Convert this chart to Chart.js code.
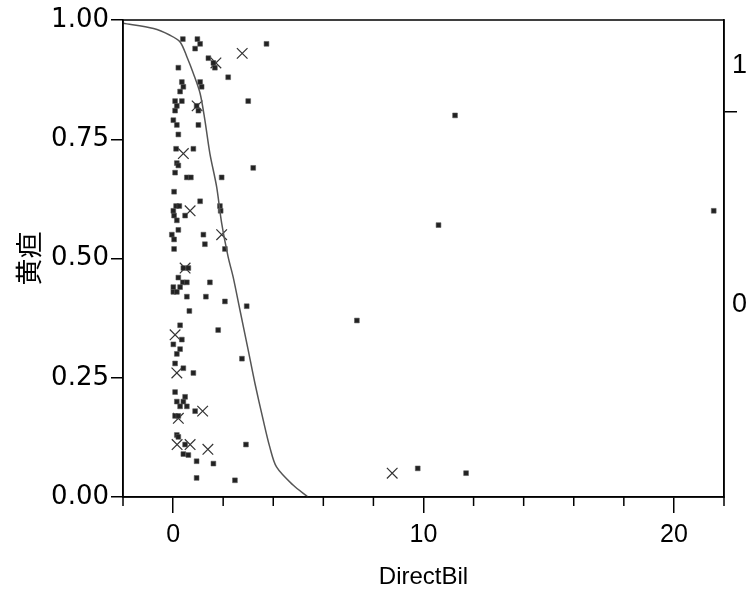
<!DOCTYPE html>
<html>
<head>
<meta charset="utf-8">
<script src="https://cdn.jsdelivr.net/npm/chart.js@4.4.0/dist/chart.umd.min.js"></script>
<style>
  html, body { margin: 0; padding: 0; background: #fff; }
</style>
</head>
<body>
<canvas id="chart" width="752" height="608"></canvas>
<script>
// Observations, level 0 (small filled squares)
const dotsX = [0.39, 0.97, 1.08, 0.88, 3.73, 1.41, 1.61, 1.67, 2.20, 3.00,
  0.21, 0.35, 0.41, 0.28, 1.08, 1.14, 0.08, 0.15, 0.08, 0.35,
  0.94, 1.01, 0.01, 0.15, 1.01, 0.21, 0.12, 0.81, 0.15, 0.21,
  0.08, 3.20, 0.55, 0.71, 1.94, 0.04, 0.12, 0.25, 1.08, 0.48,
  0.01, 0.04, 0.15, 0.21, -0.05, 0.04, 0.04, 1.21, 1.27, 1.87,
  1.90, 2.07, 0.41, 0.61, 0.21, 0.39, 0.55, 0.01, 0.28, 0.01,
  0.15, 0.55, 1.47, 1.31, 2.07, 2.94, 0.65, 1.80, 0.28, 0.35,
  0.01, 0.28, 0.15, 2.75, 0.08, 0.41, 0.81, 0.08, 0.48, 0.41,
  0.15, 0.28, 0.55, 0.88, 0.08, 0.21, 0.15, 0.21, 0.48, 0.41,
  0.61, 0.94, 2.91, 1.61, 0.94, 2.47, 11.26, 10.60, 21.59, 7.34,
  9.77, 11.70];
const dotsY = [0.96, 0.96, 0.95, 0.94, 0.95, 0.92, 0.91, 0.90, 0.88, 0.83,
  0.90, 0.87, 0.86, 0.85, 0.87, 0.86, 0.83, 0.82, 0.81, 0.83,
  0.82, 0.81, 0.79, 0.78, 0.78, 0.76, 0.73, 0.73, 0.70, 0.695,
  0.68, 0.69, 0.67, 0.67, 0.67, 0.64, 0.61, 0.61, 0.62, 0.59,
  0.60, 0.59, 0.58, 0.56, 0.55, 0.54, 0.52, 0.55, 0.53, 0.61,
  0.60, 0.52, 0.48, 0.48, 0.46, 0.45, 0.45, 0.44, 0.44, 0.43,
  0.43, 0.42, 0.45, 0.42, 0.41, 0.40, 0.39, 0.35, 0.36, 0.33,
  0.32, 0.31, 0.30, 0.29, 0.28, 0.27, 0.26, 0.22, 0.21, 0.20,
  0.20, 0.19, 0.19, 0.18, 0.17, 0.17, 0.13, 0.126, 0.11, 0.09,
  0.088, 0.075, 0.11, 0.07, 0.04, 0.035, 0.80, 0.57, 0.60, 0.37,
  0.06, 0.05];

// Observations, level 1 (crosses)
const crossX = [2.76, 1.71, 0.96, 0.41, 0.68, 1.94, 0.48, 0.08, 0.15, 1.18, 0.21, 0.68, 1.39, 0.16, 8.75];
const crossY = [0.93, 0.91, 0.82, 0.72, 0.60, 0.55, 0.48, 0.34, 0.26, 0.18, 0.165, 0.11, 0.10, 0.11, 0.05];

// Fitted probability curve
const curveX = [-2, -0.78, -0.12, 0.28, 0.55, 0.81, 1.08, 1.27, 1.47, 1.74, 1.94,
  2.20, 2.40, 2.67, 3.00, 3.27, 3.60, 3.86, 4.13, 4.79, 5.39];
const curveY = [0.993, 0.982, 0.968, 0.954, 0.923, 0.888, 0.846, 0.790, 0.720, 0.650, 0.574,
  0.503, 0.461, 0.392, 0.308, 0.238, 0.161, 0.105, 0.063, 0.025, 0];

// Axis ticks
const yTicks = [0, 0.25, 0.5, 0.75, 1];
const xLabelTicks = [0, 10, 20];
const xMinorTicks = [-2, 2, 4, 6, 8, 12, 14, 16, 18, 22];
const levelLabels = ['0', '1'];
const levelSplit = 0.808;

const toPoints = (xs, ys) => xs.map((x, i) => ({ x: x, y: ys[i] }));

// frame around the plot + short minor ticks on x
const framePlugin = {
  id: 'frame',
  afterDraw(chart) {
    const { ctx, chartArea: a, scales } = chart;
    ctx.save();
    ctx.strokeStyle = '#000';
    ctx.lineWidth = 1.5;
    ctx.strokeRect(a.left, a.top, a.right - a.left, a.bottom - a.top);
    xMinorTicks.forEach(v => {
      const px = scales.x.getPixelForValue(v);
      ctx.beginPath();
      ctx.moveTo(px, a.bottom);
      ctx.lineTo(px, a.bottom + 9);
      ctx.stroke();
    });
    ctx.restore();
  }
};

const font = 'Liberation Sans';

new Chart(document.getElementById('chart'), {
  type: 'scatter',
  data: {
    datasets: [
      {
        label: 'fit',
        data: toPoints(curveX, curveY),
        showLine: true,
        borderColor: '#555',
        borderWidth: 1.5,
        pointRadius: 0,
        tension: 0.3
      },
      {
        label: '0',
        data: toPoints(dotsX, dotsY),
        pointStyle: 'rect',
        pointRadius: 3.4,
        backgroundColor: '#222',
        borderColor: 'rgba(90,90,90,0.55)',
        borderWidth: 1
      },
      {
        label: '1',
        data: toPoints(crossX, crossY),
        pointStyle: 'crossRot',
        pointRadius: 7.5,
        borderColor: '#333',
        borderWidth: 1.2
      }
    ]
  },
  options: {
    responsive: false,
    animation: false,
    layout: { padding: { top: 20, left: 0, right: 0, bottom: 0 } },
    plugins: { legend: { display: false }, tooltip: { enabled: false } },
    scales: {
      x: {
        type: 'linear',
        min: -2,
        max: 22,
        afterBuildTicks: s => { s.ticks = xLabelTicks.map(v => ({ value: v })); },
        ticks: { font: { family: font, size: 25 }, color: '#000', padding: 7, maxRotation: 0 },
        grid: { drawOnChartArea: false, tickLength: 16, color: '#000', lineWidth: 1.5 },
        border: { color: '#000', width: 1.5 },
        title: {
          display: true, text: 'DirectBil', color: '#000',
          font: { family: font, size: 24 }, padding: { top: 0, bottom: 16 }
        },
        afterFit: s => { s.height = 111; }
      },
      y: {
        min: 0,
        max: 1,
        afterBuildTicks: s => { s.ticks = yTicks.map(v => ({ value: v })); },
        ticks: { font: { family: 'DejaVu Sans', size: 26 }, color: '#000', padding: 2, callback: v => v.toFixed(2) },
        grid: { drawOnChartArea: false, tickLength: 12, color: '#000', lineWidth: 1.5 },
        border: { color: '#000', width: 1.5 },
        title: {
          display: true, text: '黄疸', color: '#000',
          font: { family: 'Noto Sans CJK JP', size: 27 }, padding: { top: 13, bottom: 0 }
        },
        afterFit: s => { s.width = 123; }
      },
      yR: {
        position: 'right',
        min: 0,
        max: 1,
        afterBuildTicks: s => {
          s.ticks = [{ value: levelSplit / 2 }, { value: levelSplit }, { value: (1 + levelSplit) / 2 }];
        },
        ticks: {
          font: { family: font, size: 27 }, color: '#000', padding: -5,
          callback: (v, i) => (i === 0 ? levelLabels[0] : i === 2 ? levelLabels[1] : '')
        },
        grid: {
          drawOnChartArea: false, tickLength: 13, lineWidth: 1.5,
          color: c => (c.index === 1 ? '#000' : 'rgba(0,0,0,0)')
        },
        border: { color: '#000', width: 1.5 },
        afterFit: s => { s.width = 28; }
      }
    }
  },
  plugins: [framePlugin]
});
</script>
</body>
</html>
